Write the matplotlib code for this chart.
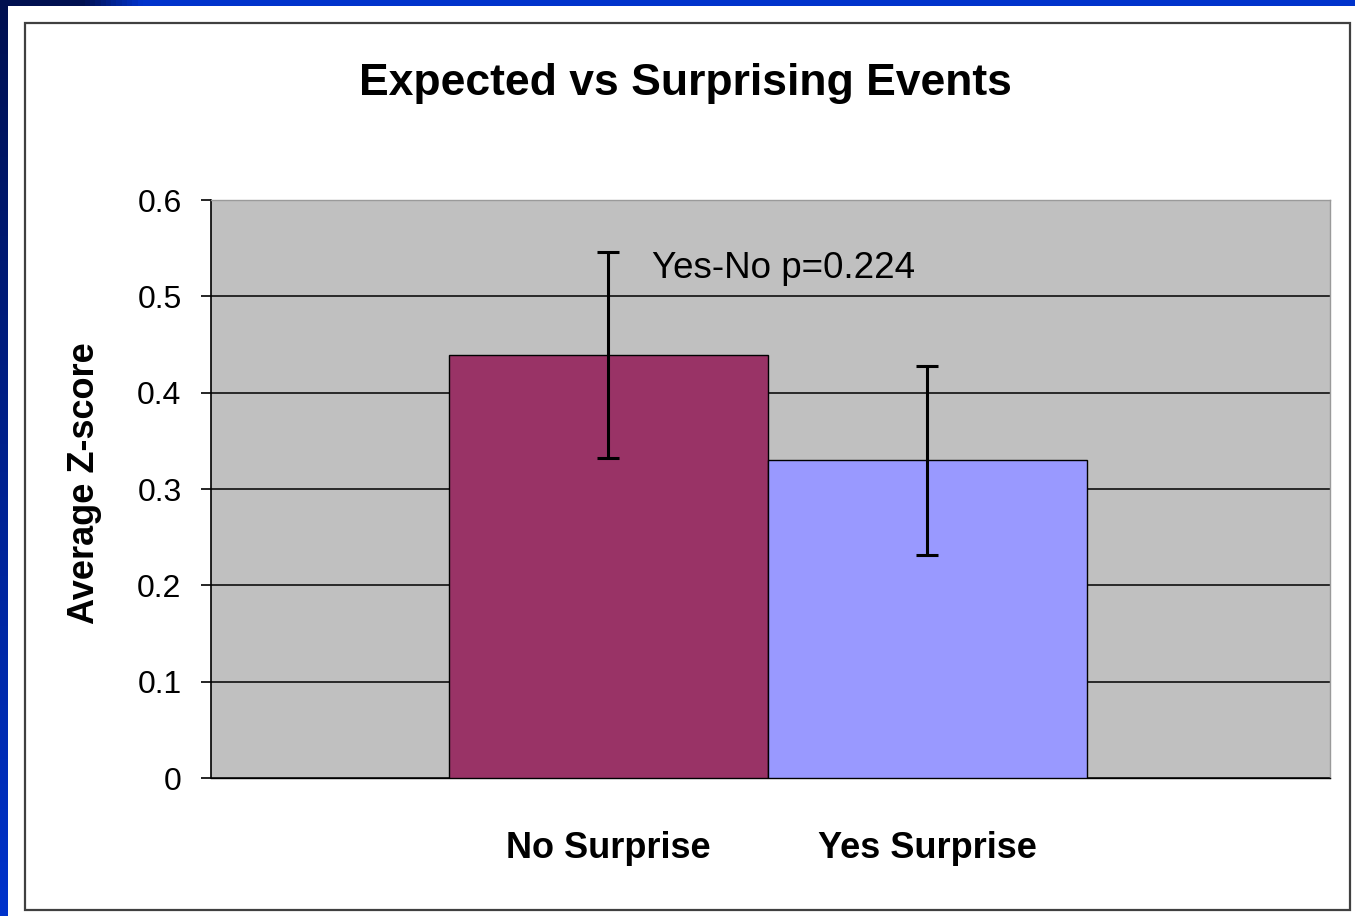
import numpy as np
import matplotlib
matplotlib.use("Agg")
import matplotlib.pyplot as plt
from matplotlib.patches import Rectangle
from matplotlib.colors import LinearSegmentedColormap

plt.rcParams['font.family'] = ['Liberation Sans', 'DejaVu Sans']

# data
categories = ["No Surprise", "Yes Surprise"]
means = [0.439, 0.330]
errors = [0.107, 0.098]
bar_colors = ["#993366", "#9999ff"]
y_ticks = [0, 0.1, 0.2, 0.3, 0.4, 0.5, 0.6]
y_tick_labels = ["0", "0.1", "0.2", "0.3", "0.4", "0.5", "0.6"]

W, H = 1355, 916
fig = plt.figure(figsize=(W / 100, H / 100), dpi=100)
fig.patch.set_facecolor("white")

# slide background strips (blue gradient top and left)
bg = fig.add_axes([0, 0, 1, 1], zorder=-5)
bg.set_xlim(0, W)
bg.set_ylim(H, 0)
bg.axis("off")
cmap = LinearSegmentedColormap.from_list("slide", ["#001050", "#0033cc"])
top_grad = np.linspace(0, 1, 256).reshape(1, -1)
top_grad = np.clip((top_grad * W - 80) / 60, 0, 1)
bg.imshow(top_grad, cmap=cmap, extent=[0, W, 6, 0], aspect="auto")
left_grad = np.linspace(0, 1, 256).reshape(-1, 1)
bg.imshow(left_grad, cmap=cmap, extent=[0, 8, H, 0], aspect="auto")
bg.add_patch(Rectangle((25, 23), 1325, 887, fill=False, edgecolor="#404040", lw=1.6))

# plot area
ax = fig.add_axes([211 / W, 1 - 778 / H, 1119 / W, 578 / H])
ax.set_facecolor("#c0c0c0")
x = np.arange(len(categories))
ax.bar(x, means, width=1.0, color=bar_colors, edgecolor="black", linewidth=1, zorder=3)
ax.errorbar(x, means, yerr=errors, fmt="none", ecolor="black", elinewidth=2.2,
            capsize=8, capthick=2.2, zorder=4)

ax.set_ylim(0, 0.6)
ax.set_xlim(-1.246, 2.262)
ax.set_yticks(y_ticks)
ax.set_yticklabels(y_tick_labels, fontsize=23)
ax.yaxis.grid(True, color="black", linewidth=1.1, zorder=1)
ax.set_axisbelow(True)
ax.tick_params(axis="y", direction="out", length=7.2, width=1.2, pad=14, colors="black")
ax.set_xticks(x)
ax.set_xticklabels(categories, fontsize=26, fontweight="bold")
ax.tick_params(axis="x", length=0, pad=38)

ax.spines["left"].set_color("black")
ax.spines["left"].set_linewidth(1.2)
ax.spines["bottom"].set_color("black")
ax.spines["bottom"].set_linewidth(1.0)
for s in ["top", "right"]:
    ax.spines[s].set_color("#9a9a9a")
    ax.spines[s].set_linewidth(1.0)

ax.set_ylabel("Average Z-score", fontsize=26, fontweight="bold", va="center")
ax.yaxis.set_label_coords((85 - 211) / 1119, 0.51)

ax.text(0.394, 0.882, "Yes-No p=0.224", transform=ax.transAxes, fontsize=26.5,
        ha="left", va="center")

fig.text(685 / W, 1 - 83 / H, "Expected vs Surprising Events", fontsize=32,
         fontweight="bold", ha="center", va="center")

fig.savefig("out.png", dpi=100)
